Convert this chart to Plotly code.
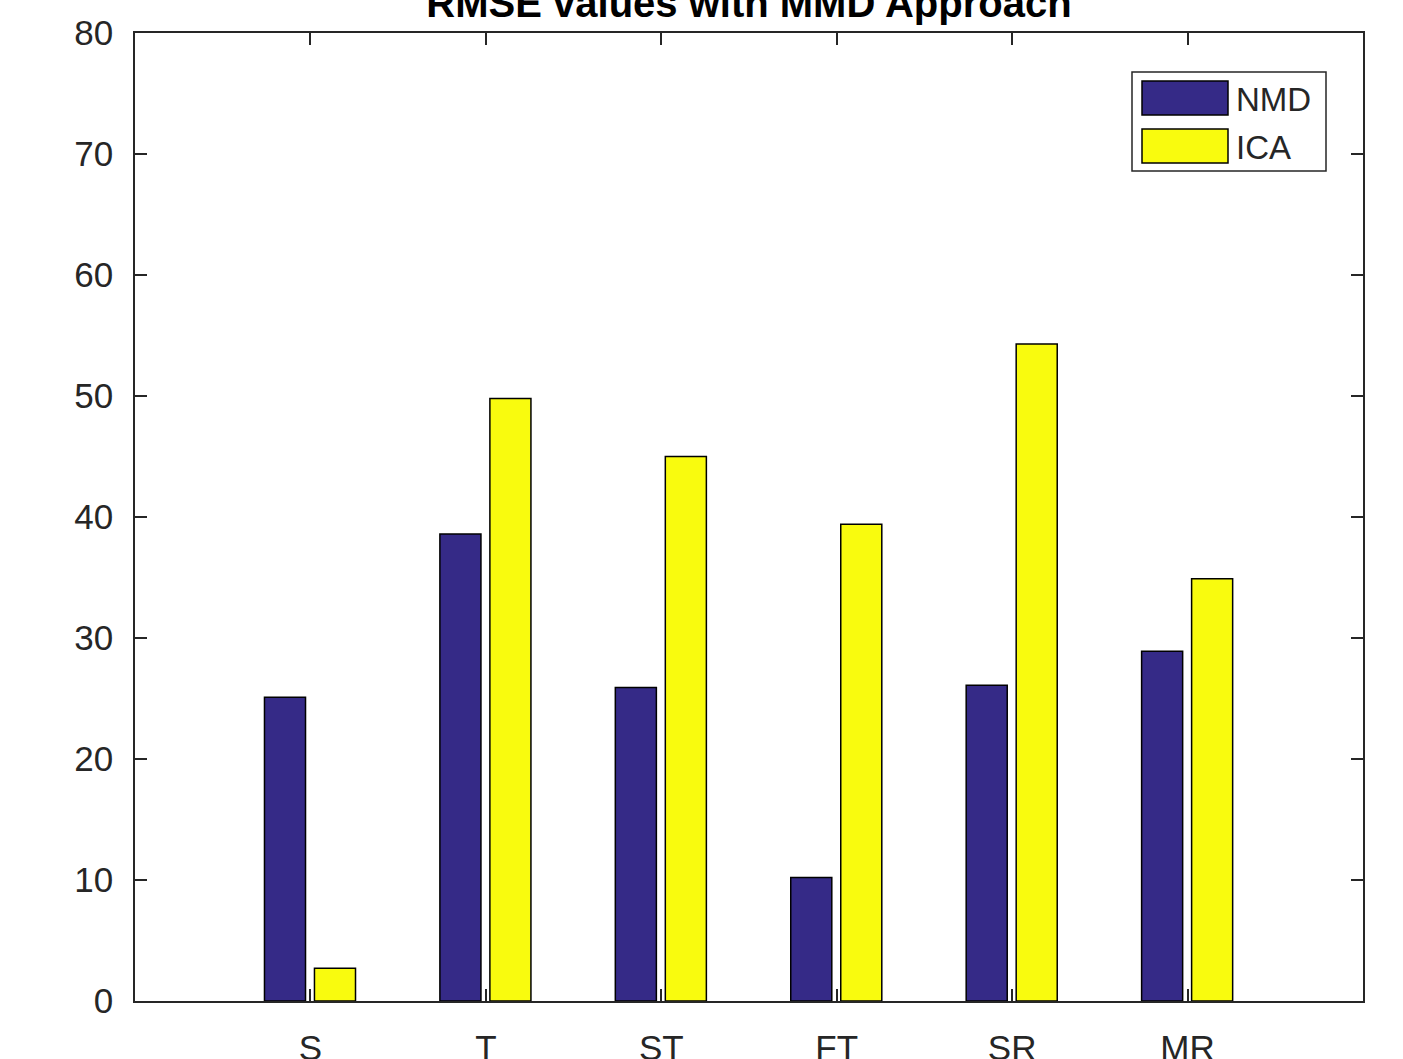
import plotly.graph_objects as go

categories = ["S", "T", "ST", "FT", "SR", "MR"]
nmd_values = [25.1, 38.6, 25.9, 10.2, 26.1, 28.9]
ica_values = [2.7, 49.8, 45.0, 39.4, 54.3, 34.9]
y_ticks = [0, 10, 20, 30, 40, 50, 60, 70, 80]

positions = list(range(1, len(categories) + 1))
NMD_COLOR = "#352a87"
ICA_COLOR = "#f9fb0e"
AX = "#262626"
FONT = "Liberation Sans, Arial, sans-serif"

fig = go.Figure()
fig.add_trace(go.Bar(x=positions, y=nmd_values, name="NMD", width=0.234, offset=-0.262,
                     marker=dict(color=NMD_COLOR, line=dict(color="black", width=1.5)),
                     showlegend=False))
fig.add_trace(go.Bar(x=positions, y=ica_values, name="ICA", width=0.234, offset=0.023,
                     marker=dict(color=ICA_COLOR, line=dict(color="black", width=1.5)),
                     showlegend=False))

# plot area in pixels: x 135..1363, y 33..1001
L, R, T, B = 135, 1363, 33, 1001
W, H = R - L, B - T
def px(x):
    return (x - L) / W
def py(y):
    return (B - y) / H

shapes = [
    dict(type="rect", xref="paper", yref="paper", x0=px(1132), x1=px(1326), y0=py(171), y1=py(72),
         line=dict(color=AX, width=1.5), fillcolor="white", layer="above"),
    dict(type="rect", xref="paper", yref="paper", x0=px(1142), x1=px(1228), y0=py(115), y1=py(81),
         line=dict(color="black", width=1.5), fillcolor=NMD_COLOR, layer="above"),
    dict(type="rect", xref="paper", yref="paper", x0=px(1142), x1=px(1228), y0=py(163), y1=py(129),
         line=dict(color="black", width=1.5), fillcolor=ICA_COLOR, layer="above"),
]
annotations = [
    dict(text="NMD", xref="paper", yref="paper", x=px(1234), y=py(99), xanchor="left", yanchor="middle",
         showarrow=False, font=dict(family=FONT, size=33, color=AX)),
    dict(text="ICA", xref="paper", yref="paper", x=px(1234), y=py(147), xanchor="left", yanchor="middle",
         showarrow=False, font=dict(family=FONT, size=33, color=AX)),
]

fig.update_layout(
    width=1403, height=1059,
    margin=dict(l=L, r=1403 - R, t=T, b=1059 - B),
    paper_bgcolor="white", plot_bgcolor="white",
    barmode="overlay",
    title=dict(text="<b>RMSE values with MMD Approach</b>", x=px(749), xref="paper",
               y=1 - 3 / 1059, yref="container", yanchor="middle", xanchor="center",
               font=dict(family=FONT, size=40, color="black")),
    shapes=shapes, annotations=annotations,
    font=dict(family=FONT, size=35, color=AX),
)
fig.update_xaxes(range=[0, 7], tickmode="array", tickvals=positions, ticktext=categories,
                 ticks="inside", ticklen=12, tickwidth=1.5, tickcolor=AX,
                 showline=True, linecolor=AX, linewidth=1.5, mirror="ticks",
                 showgrid=False, zeroline=False, ticklabelstandoff=15, automargin=False,
                 tickfont=dict(family=FONT, size=35, color=AX))
fig.update_yaxes(range=[0, 80], tickmode="array", tickvals=y_ticks,
                 ticks="inside", ticklen=12, tickwidth=1.5, tickcolor=AX,
                 showline=True, linecolor=AX, linewidth=1.5, mirror="ticks",
                 showgrid=False, zeroline=False, ticklabelstandoff=13, automargin=False,
                 tickfont=dict(family=FONT, size=35, color=AX))

fig.write_html("out.html", config={"displayModeBar": False},
               post_script="document.body.style.margin='0';document.body.style.overflow='hidden';")
